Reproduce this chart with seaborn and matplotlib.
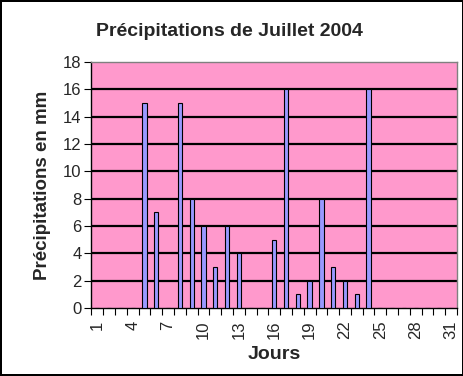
import numpy as np
import pandas as pd
import matplotlib
matplotlib.use("Agg")
import matplotlib.pyplot as plt
import seaborn as sns

# Daily rainfall, July 2004 (mm)
days = list(range(1, 32))
rain_mm = [0, 0, 0, 0, 15, 7, 0, 15, 8, 6,
           3, 6, 4, 0, 0, 5, 16, 1, 2, 8,
           3, 2, 1, 16, 0, 0, 0, 0, 0, 0, 0]
label_days = [1, 4, 7, 10, 13, 16, 19, 22, 25, 28, 31]
y_ticks = list(range(0, 19, 2))

df = pd.DataFrame({"jour": days, "pluie": rain_mm})

sns.set_style("white")
plt.rcParams["font.family"] = ["Liberation Sans", "DejaVu Sans"]

fig = plt.figure(figsize=(4.64, 3.76), dpi=100)
fig.patch.set_facecolor("white")
fig.patch.set_edgecolor("black")
fig.patch.set_linewidth(1.5)
ax = fig.add_axes([0.197, 0.181, 0.788, 0.654])
ax.set_facecolor("#FF99CC")

sns.barplot(data=df, x="jour", y="pluie", order=days, color="#9999FF",
            edgecolor="black", linewidth=0.8, width=0.36, saturation=1,
            errorbar=None, ax=ax, zorder=3)

ax.set_ylim(0, 18)
ax.set_xlim(-0.5, len(days) - 0.5)
ax.set_yticks(y_ticks)
ax.set_yticklabels([str(v) for v in y_ticks], fontsize=12)
for v in y_ticks[1:-1]:
    ax.axhline(v, color="black", linewidth=1.6, zorder=1)

# category boundaries carry the tick marks, labels sit at the centres
ax.set_xticks(np.arange(-0.5, len(days), 1.0))
ax.set_xticklabels([])
ax.set_xticks([days.index(d) for d in label_days], minor=True)
ax.set_xticklabels([str(d) for d in label_days], minor=True,
                   rotation=90, fontsize=12)
ax.tick_params(axis="x", which="major", direction="out", length=5,
               width=0.8, color="black", bottom=True)
ax.tick_params(axis="x", which="minor", length=0, pad=9)
ax.tick_params(axis="y", direction="out", length=5, width=0.8,
               color="black", left=True, pad=2)

for side in ["left", "bottom"]:
    ax.spines[side].set_color("black")
    ax.spines[side].set_linewidth(1)
for side in ["top", "right"]:
    ax.spines[side].set_color("#808080")
    ax.spines[side].set_linewidth(1)

ax.set_xlabel("Jours", fontsize=14, fontweight="bold", labelpad=5)
ax.set_ylabel("Précipitations en mm", fontsize=13.5, fontweight="bold",
              labelpad=9)
fig.text(0.495, 0.915, "Précipitations de Juillet 2004", ha="center",
         va="center", fontsize=14, fontweight="bold")

fig.savefig("out.png", dpi=100)
